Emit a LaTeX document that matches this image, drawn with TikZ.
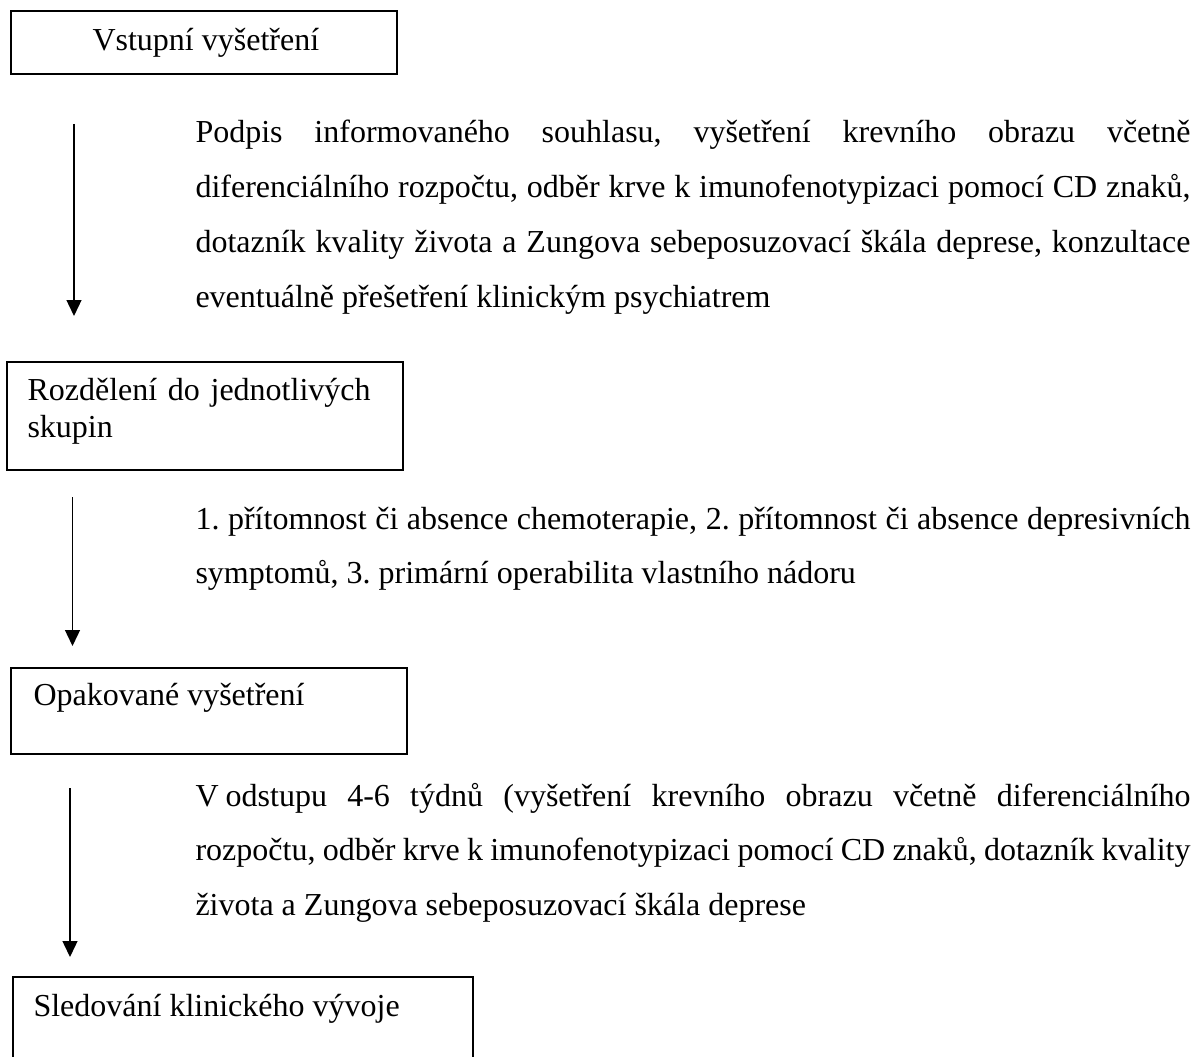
\documentclass[tikz,border=0pt]{standalone}
\usepackage{fontspec}
\setmainfont{Liberation Serif}
\usetikzlibrary{arrows.meta}
\frenchspacing
\begin{document}
\begin{tikzpicture}[x=0.375pt,y=-0.375pt,
  box/.style={draw,line width=0.75pt,inner sep=0pt,anchor=north west},
  lbl/.style={inner sep=0pt,anchor=base west,font=\fontsize{12pt}{13.9pt}\selectfont},
  lbl2/.style={lbl,text width=150pt,align=left},
  para/.style={inner sep=0pt,anchor=base west,text width=373.1pt,align=justify,
    font={\fontsize{12pt}{20.6pt}\selectfont\frenchspacing\spaceskip=0.25em plus 0.6em minus 0.08em\relax
      \hyphenpenalty=10000\exhyphenpenalty=10000\tolerance=9999\hbadness=10000}},
  arr/.style={-{Triangle[length=6pt,width=5.6pt]},line width=0.6pt}]
\path[use as bounding box] (0,0) rectangle (1201,1056);
\clip (0,0) rectangle (1201,1056);

% boxes
\node[box,minimum width=386*0.375pt,minimum height=63*0.375pt] (b1) at (10,10) {};
\node[box,minimum width=396*0.375pt,minimum height=108*0.375pt] (b2) at (6,361) {};
\node[box,minimum width=396*0.375pt,minimum height=86*0.375pt] (b3) at (10,667) {};
\node[box,minimum width=460*0.375pt,minimum height=130*0.375pt] (b4) at (12,976) {};

% box texts
\node[lbl] (t1) at (92,51) {Vstupní vyšetření};
\node[lbl2] (t2) at (27,400) {Rozdělení do jednotlivých\\skupin};
\node[lbl] (t3) at (33,705) {Opakované vyšetření};
\node[lbl] (t4) at (33,1016) {Sledování klinického vývoje};

% paragraphs
\node[para] (p1) at (195,143) {Podpis informovaného souhlasu, vyšetření krevního obrazu včetně\linebreak
diferenciálního rozpočtu, odběr krve k imunofenotypizaci pomocí CD znaků,\linebreak
dotazník kvality života a Zungova sebeposuzovací škála deprese, konzultace\linebreak
eventuálně přešetření klinickým psychiatrem};
\node[para] (p2) at (195,529) {1. přítomnost či absence chemoterapie, 2. přítomnost či absence depresivních\linebreak
symptomů, 3. primární operabilita vlastního nádoru};
\node[para] (p3) at (195,806) {V\hspace{0.22em}odstupu 4-6 týdnů (vyšetření krevního obrazu včetně diferenciálního\linebreak
rozpočtu, odběr krve k imunofenotypizaci pomocí CD znaků, dotazník kvality\linebreak
života a Zungova sebeposuzovací škála deprese};

% arrows
\coordinate (a1s) at (74,124);
\coordinate (a1e) at (74,316);
\coordinate (a2s) at (72.5,497);
\coordinate (a2e) at (72.5,646);
\coordinate (a3s) at (70,788);
\coordinate (a3e) at (70,957);
\draw[arr] (a1s) -- (a1e);
\draw[arr] (a2s) -- (a2e);
\draw[arr] (a3s) -- (a3e);
\end{tikzpicture}
\end{document}
